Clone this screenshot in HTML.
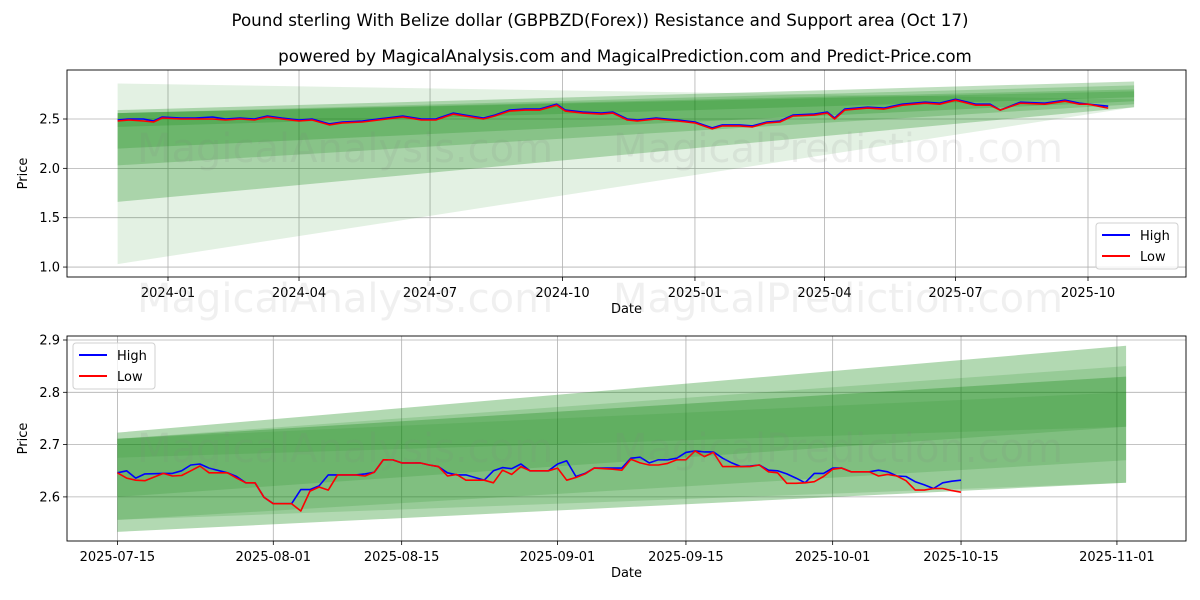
<!DOCTYPE html>
<html><head><meta charset="utf-8"><style>
html,body{margin:0;padding:0;background:#fff;}
svg{display:block;font-family:"DejaVu Sans","Liberation Sans",sans-serif;}
</style></head><body>
<svg id="chart" width="1200" height="600" viewBox="0 0 1200 600" xmlns="http://www.w3.org/2000/svg">
<text x="600" y="26" text-anchor="middle" font-size="16.7">Pound sterling With Belize dollar (GBPBZD(Forex)) Resistance and Support area (Oct 17)</text>
<text x="625" y="62" text-anchor="middle" font-size="16.7">powered by MagicalAnalysis.com and MagicalPrediction.com and Predict-Price.com</text>
<g id="top"></g>
<g id="bot"></g>
</svg>
<script>
// ---- top chart data ----
const topDates = ["2023-11-27","2023-12-05","2023-12-15","2023-12-22","2023-12-28","2024-01-10","2024-01-20","2024-02-01","2024-02-10","2024-02-20","2024-03-01","2024-03-10","2024-03-20","2024-04-01","2024-04-10","2024-04-22","2024-05-01","2024-05-15","2024-06-01","2024-06-12","2024-06-25","2024-07-05","2024-07-17","2024-07-25","2024-08-07","2024-08-15","2024-08-25","2024-09-05","2024-09-15","2024-09-27","2024-10-03","2024-10-15","2024-10-28","2024-11-05","2024-11-15","2024-11-22","2024-12-05","2024-12-20","2025-01-01","2025-01-13","2025-01-20","2025-02-01","2025-02-10","2025-02-20","2025-03-01","2025-03-10","2025-03-25","2025-04-03","2025-04-08","2025-04-15","2025-05-01","2025-05-12","2025-05-25","2025-06-10","2025-06-20","2025-07-01","2025-07-15","2025-07-25","2025-08-01","2025-08-15","2025-09-01","2025-09-15","2025-09-25","2025-10-01","2025-10-15"];
const topHigh = [2.49,2.50,2.50,2.48,2.52,2.51,2.51,2.52,2.50,2.51,2.50,2.53,2.51,2.49,2.50,2.45,2.47,2.48,2.51,2.53,2.50,2.50,2.56,2.54,2.51,2.54,2.59,2.60,2.60,2.65,2.59,2.57,2.56,2.57,2.50,2.49,2.51,2.49,2.47,2.41,2.44,2.44,2.43,2.47,2.48,2.54,2.55,2.57,2.51,2.60,2.62,2.61,2.65,2.67,2.66,2.70,2.65,2.65,2.59,2.67,2.66,2.69,2.66,2.65,2.63];
const topLow = [2.48,2.49,2.48,2.47,2.51,2.50,2.50,2.50,2.49,2.50,2.49,2.52,2.50,2.48,2.49,2.44,2.46,2.47,2.50,2.52,2.49,2.49,2.55,2.53,2.50,2.53,2.58,2.59,2.59,2.64,2.58,2.56,2.55,2.56,2.49,2.48,2.50,2.48,2.46,2.40,2.43,2.43,2.42,2.46,2.47,2.53,2.54,2.56,2.50,2.59,2.61,2.60,2.64,2.66,2.65,2.69,2.64,2.64,2.59,2.66,2.65,2.68,2.65,2.65,2.61];
const topBandStart = "2023-11-27", topBandEnd = "2025-11-02";
const topBandLow0 = [1.03,1.66,2.03,2.20,2.42];
const topBandHigh0 = [2.86,2.59,2.56,2.56,2.56];
const topBandLow1 = [2.62,2.62,2.65,2.68,2.72];
const topBandHigh1 = [2.70,2.88,2.84,2.80,2.78];
const topBandAlpha = [0.11,0.25,0.2,0.2,0.18];
const topYTicks = [1.0,1.5,2.0,2.5];
const topXTicks = ["2024-01","2024-04","2024-07","2024-10","2025-01","2025-04","2025-07","2025-10"];

// ---- bottom chart data ----
const botDays = [0,1,2,3,5,6,7,8,9,10,12,13,14,15,16,17,19,20,21,22,23,24,26,27,28,29,30,31,33,34,35,36,37,38,39,40,41,42,43,44,45,47,48,49,50,51,52,54,55,56,57,58,59,60,61,62,63,64,65,66,67,68,69,70,71,72,73,74,75,76,77,78,79,80,81,82,83,84,85,86,87,88,89,90,91,92];
const botHigh = [2.646,2.650,2.636,2.644,2.645,2.645,2.650,2.661,2.663,2.655,2.646,2.639,2.627,2.627,2.599,2.587,2.587,2.614,2.614,2.621,2.642,2.642,2.642,2.644,2.647,2.671,2.671,2.665,2.665,2.661,2.658,2.646,2.642,2.642,2.637,2.632,2.650,2.656,2.654,2.663,2.650,2.650,2.663,2.669,2.639,2.645,2.655,2.655,2.655,2.674,2.676,2.665,2.671,2.671,2.674,2.685,2.688,2.686,2.686,2.674,2.665,2.658,2.659,2.661,2.651,2.650,2.644,2.636,2.627,2.645,2.645,2.655,2.655,2.648,2.648,2.648,2.651,2.648,2.640,2.639,2.629,2.623,2.616,2.627,2.630,2.632];
const botLow = [2.646,2.636,2.632,2.631,2.645,2.640,2.641,2.650,2.659,2.646,2.646,2.636,2.627,2.627,2.599,2.587,2.587,2.573,2.611,2.619,2.613,2.642,2.642,2.640,2.647,2.671,2.671,2.665,2.665,2.661,2.658,2.640,2.643,2.632,2.632,2.632,2.627,2.651,2.643,2.658,2.650,2.650,2.655,2.632,2.637,2.644,2.655,2.653,2.651,2.672,2.665,2.661,2.661,2.664,2.671,2.671,2.688,2.677,2.685,2.658,2.658,2.658,2.658,2.661,2.648,2.646,2.626,2.626,2.627,2.629,2.639,2.653,2.655,2.648,2.648,2.648,2.640,2.643,2.640,2.631,2.613,2.613,2.616,2.616,2.612,2.609];
const botBandEndDay = 110;
const botBandLow0 = [2.533,2.556,2.556,2.600,2.675];
const botBandHigh0 = [2.723,2.711,2.711,2.711,2.711];
const botBandLow1 = [2.627,2.627,2.670,2.734,2.734];
const botBandHigh1 = [2.889,2.850,2.830,2.830,2.800];
const botBandAlpha = [0.3,0.15,0.15,0.15,0.1];
const botYTicks = [2.6,2.7,2.8,2.9];
const botXTickDays = [0,17,31,48,62,78,92,109];
const botXTickLabels = ["2025-07-15","2025-08-01","2025-08-15","2025-09-01","2025-09-15","2025-10-01","2025-10-15","2025-11-01"];

const NS="http://www.w3.org/2000/svg";
function mk(tag, attrs, parent){const e=document.createElementNS(NS,tag);for(const k in attrs)e.setAttribute(k,attrs[k]);parent.appendChild(e);return e;}
const DAY=86400000;
function dnum(s){const p=s.split("-");return Date.UTC(+p[0],+p[1]-1,p[2]?+p[2]:1)/DAY;}

function panel(g, L, T, R, B, xOf, yOf, yTicks, xTicks, bands, hi, lo, legendPos){
  yTicks.forEach(v=>{
    const y=yOf(v);
    const gl=mk("line",{x1:L,x2:R,y1:y,y2:y,stroke:"#b0b0b0","stroke-width":0.8},g);
    
    
    const tk=mk("line",{x1:L-4,x2:L,y1:y,y2:y,stroke:"#000","stroke-width":0.8},g);
    
    
    const t=mk("text",{x:L-7,y:y+4.5,"text-anchor":"end","font-size":13},g);
    t.textContent=v.toFixed(1);
    
    
  });
  xTicks.forEach(([xv,lab])=>{
    const x=xOf(xv);
    const gl=mk("line",{x1:x,x2:x,y1:T,y2:B,stroke:"#b0b0b0","stroke-width":0.8},g);
    
    
    const tk=mk("line",{x1:x,x2:x,y1:B,y2:B+4,stroke:"#000","stroke-width":0.8},g);
    
    
    const t=mk("text",{x:x,y:B+20,"text-anchor":"middle","font-size":13},g);
    t.textContent=lab;
    
    
  });
  bands.forEach(b=>{
    const pts=[[b.x0,b.h0],[b.x1,b.h1],[b.x1,b.l1],[b.x0,b.l0]].map(p=>xOf(p[0]).toFixed(1)+","+yOf(p[1]).toFixed(1)).join(" ");
    const p=mk("polygon",{points:pts,fill:"rgb(0,128,0)","fill-opacity":b.a},g);
    
    
  });
  const hp=mk("polyline",{points:hi.map(d=>xOf(d[0]).toFixed(1)+","+yOf(d[1]).toFixed(1)).join(" "),fill:"none",stroke:"#0000ff","stroke-width":1.6,"stroke-linejoin":"round"},g);
  
  
  const lp=mk("polyline",{points:lo.map(d=>xOf(d[0]).toFixed(1)+","+yOf(d[1]).toFixed(1)).join(" "),fill:"none",stroke:"#ff0000","stroke-width":1.6,"stroke-linejoin":"round"},g);
  
  
  const fr=mk("rect",{x:L,y:T,width:R-L,height:B-T,fill:"none",stroke:"#000","stroke-width":0.9},g);
  
  
  const [lx,ly]=legendPos;
  const lg=mk("g",{},g);
  
  
  mk("rect",{x:lx,y:ly,width:82,height:46,rx:3,fill:"#fff","fill-opacity":0.8,stroke:"#d0d0d0"},lg);
  [["High","#0000ff"],["Low","#ff0000"]].forEach(([n,c],i)=>{
    const e=mk("g",{},lg);
    
    
    mk("line",{x1:lx+6,x2:lx+34,y1:ly+12+i*21,y2:ly+12+i*21,stroke:c,"stroke-width":2},e);
    const t=mk("text",{x:lx+44,y:ly+17+i*21,"font-size":13},e);t.textContent=n;
  });
  const xl=mk("text",{x:(L+R)/2,y:B+36,"text-anchor":"middle","font-size":13},g);xl.textContent="Date";
  
  
  const yl=mk("text",{x:0,y:0,"text-anchor":"middle","font-size":13,transform:`translate(27,${(T+B)/2}) rotate(-90)`},g);yl.textContent="Price";
  
  
}

(function(){
  const g=document.getElementById("top");
  const L=67,T=70,R=1186,B=277;
  const ref=dnum("2024-01-01"), ppd=(1088-168)/(dnum("2025-10-01")-ref);
  const xOf=d=>168+(d-ref)*ppd;
  const yOf=v=>119+(2.5-v)*98.7;
  const bands=topBandAlpha.map((a,i)=>({x0:dnum(topBandStart),x1:dnum(topBandEnd),l0:topBandLow0[i],h0:topBandHigh0[i],l1:topBandLow1[i],h1:topBandHigh1[i],a:a}));
  panel(g,L,T,R,B,xOf,yOf,topYTicks,topXTicks.map(s=>[dnum(s),s]),bands,
    topDates.map((d,i)=>[dnum(d),topHigh[i]]),topDates.map((d,i)=>[dnum(d),topLow[i]]),[1096,223]);
})();
(function(){
  const g=document.getElementById("bot");
  const L=67,T=336,R=1186,B=541;
  const xOf=d=>117.4+d*9.17;
  const yOf=v=>340+(2.9-v)*523;
  const bands=botBandAlpha.map((a,i)=>({x0:0,x1:botBandEndDay,l0:botBandLow0[i],h0:botBandHigh0[i],l1:botBandLow1[i],h1:botBandHigh1[i],a:a}));
  panel(g,L,T,R,B,xOf,yOf,botYTicks,botXTickDays.map((d,i)=>[d,botXTickLabels[i]]),bands,
    botDays.map((d,i)=>[d,botHigh[i]]),botDays.map((d,i)=>[d,botLow[i]]),[73,343]);
})();
(function(){
  const svg=document.getElementById("chart");
  [[345,162,"MagicalAnalysis.com"],[838,162,"MagicalPrediction.com"],[345,312,"MagicalAnalysis.com"],[838,312,"MagicalPrediction.com"],[345,462,"MagicalAnalysis.com"],[838,462,"MagicalPrediction.com"]].forEach(([x,y,s])=>{
    const t=mk("text",{x:x,y:y,"text-anchor":"middle","font-size":40,fill:"#808080","fill-opacity":0.12},svg);
    t.textContent=s;
    
    
  });
})();
</script>
</body></html>
